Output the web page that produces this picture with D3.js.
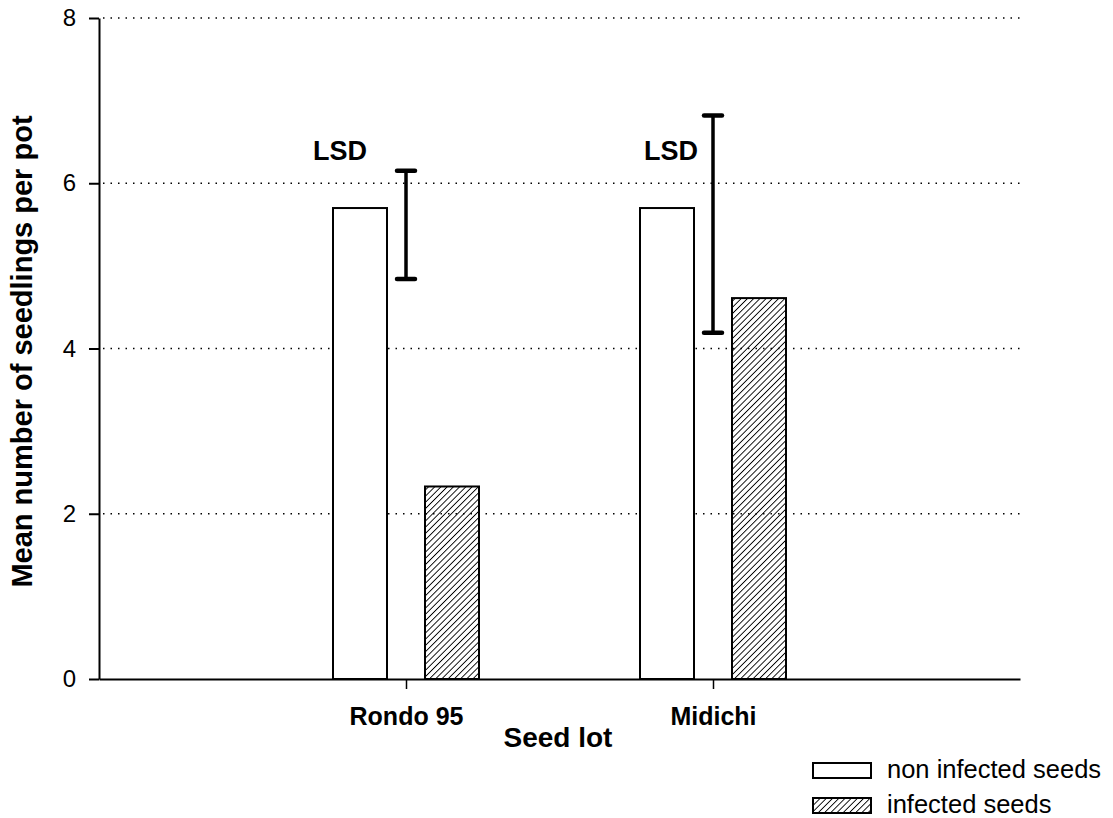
<!DOCTYPE html>
<html>
<head>
<meta charset="utf-8">
<script src="https://cdn.jsdelivr.net/npm/d3@7"></script>
<style>
  body { margin: 0; background: #fff; }
  text { font-family: "Liberation Sans", Arial, sans-serif; fill: #000; }
</style>
</head>
<body>
<svg id="chart" width="1113" height="818"></svg>
<script>
const seedLots = ["Rondo 95", "Midichi"];
const nonInfected = [5.7, 5.7];
const infected = [2.33, 4.61];
const lsdLow = [4.84, 4.19];
const lsdHigh = [6.15, 6.82];
const yTicks = [0, 2, 4, 6, 8];
const seriesNames = ["non infected seeds", "infected seeds"];

const svg = d3.select("#chart");
const plotLeft = 99, plotRight = 1020, plotTop = 18, plotBottom = 679;

const x = d3.scalePoint().domain(seedLots).range([plotLeft, plotRight]).padding(1);
const y = d3.scaleLinear().domain([0, 8]).range([plotBottom, plotTop]);

const barW = 54;
const barOff = 46;
const fontFam = "'Liberation Sans', Arial, sans-serif";

// hatch pattern
const defs = svg.append("defs");
defs.append("pattern")
    .attr("id", "hatch")
    .attr("patternUnits", "userSpaceOnUse")
    .attr("width", 4.4).attr("height", 4.4)
    .attr("patternTransform", "rotate(45)")
  .append("line")
    .attr("x1", 0).attr("y1", -1).attr("x2", 0).attr("y2", 6)
    .attr("stroke", "#000").attr("stroke-width", 1.8);

// gridlines
svg.append("g")
  .selectAll("line")
  .data(yTicks.filter(d => d > 0))
  .enter().append("line")
    .attr("x1", plotLeft + 4).attr("x2", plotRight)
    .attr("y1", d => y(d)).attr("y2", d => y(d))
    .attr("stroke", "#000")
    .attr("stroke-width", 1.5)
    .attr("stroke-dasharray", "1.5,6");

// y axis
const yAxis = svg.append("g")
    .attr("transform", `translate(${plotLeft},0)`)
    .call(d3.axisLeft(y).tickValues(yTicks).tickSize(10).tickSizeOuter(0).tickPadding(13));
yAxis.select(".domain").attr("stroke-width", 2);
yAxis.selectAll(".tick line").attr("stroke-width", 2);
yAxis.selectAll("text").attr("font-size", 24).attr("fill", "#000")
    .style("font-family", fontFam);

// x axis
const xAxis = svg.append("g")
    .attr("transform", `translate(0,${plotBottom})`)
    .call(d3.axisBottom(x).tickSize(10).tickSizeOuter(0).tickPadding(0));
xAxis.select(".domain").attr("stroke-width", 2);
xAxis.selectAll(".tick line").attr("stroke-width", 1.5);
xAxis.selectAll(".tick text")
    .attr("y", 46).attr("dy", 0)
    .attr("font-size", 25).attr("font-weight", "bold").attr("fill", "#000")
    .style("font-family", fontFam);

// bars
const bars = svg.append("g");
bars.selectAll(".non")
  .data(seedLots)
  .enter().append("rect")
    .attr("x", (d, i) => x(d) - barOff - barW / 2)
    .attr("y", (d, i) => y(nonInfected[i]))
    .attr("width", barW)
    .attr("height", (d, i) => plotBottom - y(nonInfected[i]))
    .attr("fill", "#fff").attr("stroke", "#000").attr("stroke-width", 2);
bars.selectAll(".inf")
  .data(seedLots)
  .enter().append("rect")
    .attr("x", (d, i) => x(d) + barOff - barW / 2)
    .attr("y", (d, i) => y(infected[i]))
    .attr("width", barW)
    .attr("height", (d, i) => plotBottom - y(infected[i]))
    .attr("fill", "url(#hatch)").attr("stroke", "#000").attr("stroke-width", 2);

// LSD bars
const lsdLabelGap = [39, 15];
const lsd = svg.append("g");
seedLots.forEach((d, i) => {
    const cx = x(d);
    lsd.append("line")
        .attr("x1", cx).attr("x2", cx)
        .attr("y1", y(lsdLow[i])).attr("y2", y(lsdHigh[i]))
        .attr("stroke", "#000").attr("stroke-width", 3.5);
    [lsdLow[i], lsdHigh[i]].forEach(v => {
        lsd.append("line")
            .attr("x1", cx - 9).attr("x2", cx + 9)
            .attr("y1", y(v)).attr("y2", y(v))
            .attr("stroke", "#000").attr("stroke-width", 4.5)
            .attr("stroke-linecap", "round");
    });
    lsd.append("text")
        .attr("x", cx - lsdLabelGap[i])
        .attr("y", y(6.28))
        .attr("text-anchor", "end")
        .attr("font-size", 27).attr("font-weight", "bold")
        .text("LSD");
});

// axis titles
svg.append("text")
    .attr("x", 558).attr("y", 747)
    .attr("text-anchor", "middle")
    .attr("font-size", 28).attr("font-weight", "bold")
    .text("Seed lot");
svg.append("text")
    .attr("transform", `translate(32,${(plotTop + plotBottom) / 2 + 3}) rotate(-90)`)
    .attr("text-anchor", "middle")
    .attr("font-size", 29).attr("font-weight", "bold")
    .text("Mean number of seedlings per pot");

// legend
const legend = svg.append("g");
seriesNames.forEach((name, i) => {
    const ly = 763 + i * 35;
    legend.append("rect")
        .attr("x", 813).attr("y", ly)
        .attr("width", 58).attr("height", 15)
        .attr("fill", i === 0 ? "#fff" : "url(#hatch)")
        .attr("stroke", "#000").attr("stroke-width", 2);
    legend.append("text")
        .attr("x", 887).attr("y", ly + 15)
        .attr("font-size", 25.5)
        .text(name);
});
</script>
</body>
</html>
